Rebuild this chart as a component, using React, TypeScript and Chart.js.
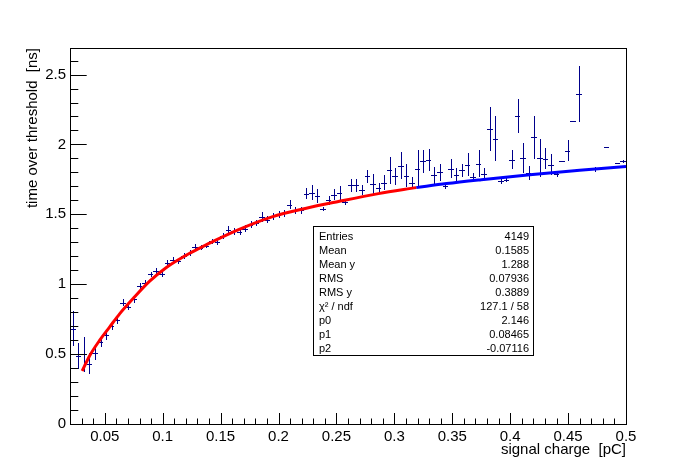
import React, { useEffect, useRef } from 'react'
import { Chart, registerables } from 'chart.js'

Chart.register(...registerables)

// profile binning: 100 bins between 0.02 and 0.5 pC
const binLow = 0.02
const binWidth = 0.0048

// mean time over threshold per bin [ns] (null = empty bin)
const tot: (number | null)[] = [
  0.681, 0.49, 0.5, 0.431, 0.505, 0.588, 0.634, 0.7, 0.743, 0.866,
  0.838, 0.891, 0.986, 1.012, 1.071, 1.093, 1.071, 1.152, 1.176, 1.164,
  1.2, 1.224, 1.266, 1.262, 1.276, 1.307, 1.302, 1.343, 1.386, 1.379,
  1.371, 1.398, 1.426, 1.438, 1.481, 1.462, 1.488, 1.498, 1.509, 1.569,
  1.529, 1.529, 1.648, 1.655, 1.629, 1.536, 1.6, 1.641, 1.652, 1.588,
  1.707, 1.707, 1.671, 1.771, 1.719, 1.691, 1.726, 1.814, 1.771, 1.848,
  1.776, 1.726, 1.826, 1.879, 1.886, 1.779, 1.8, 1.702, 1.826, 1.784,
  1.814, 1.855, 1.766, 1.862, 1.786, 2.112, 2.041, 1.738, 1.748, 1.891,
  2.205, 1.905, 1.798, 2.05, 1.905, 1.898, 1.855, 1.786, 1.884, 1.955,
  2.169, 2.362, null, null, 1.821, null, 1.979, null, 1.869, 1.879,
]

// error on the mean per bin [ns]
const totErr = [
  0.125, 0.093, 0.125, 0.075, 0.05, 0.04, 0.035, 0.025, 0.025, 0.025,
  0.022, 0.022, 0.022, 0.02, 0.02, 0.02, 0.02, 0.02, 0.02, 0.02,
  0.02, 0.02, 0.02, 0.02, 0.02, 0.02, 0.02, 0.02, 0.03, 0.025,
  0.02, 0.025, 0.025, 0.025, 0.035, 0.025, 0.025, 0.025, 0.025, 0.03,
  0.025, 0.025, 0.04, 0.056, 0.05, 0.015, 0.03, 0.04, 0.05, 0.02,
  0.048, 0.048, 0.036, 0.048, 0.072, 0.035, 0.054, 0.097, 0.064, 0.096,
  0.084, 0.042, 0.132, 0.084, 0.078, 0.06, 0.058, 0.018, 0.068, 0.048,
  0.048, 0.084, 0.03, 0.096, 0.042, 0.157, 0.161, 0.024, 0.015, 0.068,
  0.121, 0.108, 0.05, 0.155, 0.137, 0.077, 0.075, 0.02, 0, 0.075,
  0, 0.202, 0, 0, 0.018, 0, 0, 0, 0, 0.01,
]

// fit curve inside the fit range (red)
const fitX = [0.0305, 0.0371, 0.0457, 0.0543, 0.063, 0.0745, 0.0888, 0.1032, 0.1176, 0.132, 0.1449, 0.1656, 0.1944, 0.2231, 0.2518, 0.2863, 0.3189]
const fitY = [0.379, 0.49, 0.6, 0.695, 0.79, 0.898, 1.022, 1.12, 1.195, 1.258, 1.312, 1.391, 1.482, 1.542, 1.592, 1.648, 1.691]

// extrapolation of the fit (blue)
const extX = [0.3189, 0.345, 0.375, 0.417, 0.46, 0.5]
const extY = [1.691, 1.72, 1.748, 1.784, 1.815, 1.842]

const xTicks = [0.05, 0.1, 0.15, 0.2, 0.25, 0.3, 0.35, 0.4, 0.45, 0.5]
const yTicks = [0, 0.5, 1, 1.5, 2, 2.5]

const statLabels = ['Entries', 'Mean', 'Mean y', 'RMS', 'RMS y', 'χ² / ndf', 'p0', 'p1', 'p2']
const statValues = ['4149', '0.1585', '1.288', '0.07936', '0.3889', '127.1 / 58', '2.146', '0.08465', '-0.07116']

const FONT = "'Liberation Sans', Arial, Helvetica, sans-serif"

const rootStyle = {
  id: 'rootStyle',
  beforeDatasetsDraw(chart: any) {
    const { ctx } = chart
    const xs = chart.scales.x
    const ys = chart.scales.y
    const meta = chart.getDatasetMeta(2)
    const pts = chart.data.datasets[2].data
    ctx.save()
    ctx.strokeStyle = '#00008b'
    ctx.lineWidth = 1
    ctx.beginPath()
    meta.data.forEach((el: any, i: number) => {
      const p = pts[i]
      const px = Math.round(el.x) + 0.5
      const py = Math.round(el.y) + 0.5
      const l = Math.round(xs.getPixelForValue(p.x - binWidth / 2))
      const r = Math.round(xs.getPixelForValue(p.x + binWidth / 2))
      ctx.moveTo(l, py)
      ctx.lineTo(r, py)
      if (p.e > 0) {
        ctx.moveTo(px, Math.round(ys.getPixelForValue(p.y + p.e)))
        ctx.lineTo(px, Math.round(ys.getPixelForValue(p.y - p.e)))
      }
    })
    ctx.stroke()
    ctx.restore()
  },
  afterDraw(chart: any) {
    const { ctx, chartArea: a } = chart
    const xs = chart.scales.x
    const ys = chart.scales.y
    ctx.save()
    ctx.strokeStyle = '#000'
    ctx.lineWidth = 1

    // frame
    ctx.strokeRect(Math.round(a.left) + 0.5, Math.round(a.top) + 0.5, Math.round(a.right - a.left), Math.round(a.bottom - a.top))

    // inward ticks
    ctx.beginPath()
    for (let k = 2; k <= 50; k++) {
      const x = Math.round(xs.getPixelForValue(k / 100)) + 0.5
      const len = k % 5 === 0 ? 11 : 5.5
      ctx.moveTo(x, a.bottom)
      ctx.lineTo(x, a.bottom - len)
    }
    for (let k = 0; k <= 26; k++) {
      const y = Math.round(ys.getPixelForValue(k / 10)) + 0.5
      const len = k % 5 === 0 ? 16.7 : 8.3
      ctx.moveTo(a.left, y)
      ctx.lineTo(a.left + len, y)
    }
    ctx.stroke()

    // axis titles
    ctx.fillStyle = '#000'
    ctx.font = `15px ${FONT}`
    ctx.textAlign = 'right'
    ctx.textBaseline = 'alphabetic'
    ctx.fillText('signal charge  [pC]', a.right, 454)
    ctx.save()
    ctx.translate(37, a.top)
    ctx.rotate(-Math.PI / 2)
    ctx.fillText('time over threshold  [ns]', 0, 0)
    ctx.restore()

    // stats box
    ctx.fillStyle = '#fff'
    ctx.fillRect(313.5, 226.5, 220, 129)
    ctx.strokeRect(313.5, 226.5, 220, 129)
    ctx.fillStyle = '#000'
    ctx.font = `11px ${FONT}`
    statLabels.forEach((lab, i) => {
      const y = 240 + i * 14
      ctx.textAlign = 'left'
      ctx.fillText(lab, 319, y)
      ctx.textAlign = 'right'
      ctx.fillText(statValues[i], 529, y)
    })
    ctx.restore()
  },
}

const App = () => {
  const canvasRef = useRef<HTMLCanvasElement>(null)

  useEffect(() => {
    if (!canvasRef.current) return
    const ctx = canvasRef.current.getContext('2d')
    if (!ctx) return

    const profile: { x: number; y: number; e: number }[] = []
    tot.forEach((v, i) => {
      if (v !== null) profile.push({ x: binLow + binWidth * (i + 0.5), y: v, e: totErr[i] })
    })

    const chart = new Chart(ctx, {
      type: 'scatter',
      data: {
        datasets: [
          {
            label: 'fit',
            data: fitX.map((x, i) => ({ x, y: fitY[i] })),
            showLine: true,
            borderColor: '#ff0000',
            borderWidth: 3,
            pointRadius: 0,
            cubicInterpolationMode: 'monotone',
          },
          {
            label: 'extrapolation',
            data: extX.map((x, i) => ({ x, y: extY[i] })),
            showLine: true,
            borderColor: '#0000ff',
            borderWidth: 3,
            pointRadius: 0,
            cubicInterpolationMode: 'monotone',
          },
          {
            label: 'profile',
            data: profile as any,
            showLine: false,
            pointRadius: 0,
          },
        ],
      },
      options: {
        animation: false,
        responsive: true,
        maintainAspectRatio: false,
        layout: { padding: { top: 48, right: 70, bottom: 0, left: 0 } },
        plugins: {
          legend: { display: false },
          tooltip: { enabled: false },
        },
        scales: {
          x: {
            type: 'linear',
            min: 0.02,
            max: 0.5,
            afterFit: (s: any) => { s.height = 48 },
            afterBuildTicks: (s: any) => { s.ticks = xTicks.map((v) => ({ value: v })) },
            grid: { display: false, drawTicks: false },
            border: { display: false },
            ticks: {
              color: '#000',
              font: { family: FONT, size: 15 },
              padding: 4,
              maxRotation: 0,
              autoSkip: false,
              callback: (v: any) => String(v),
            },
          },
          y: {
            type: 'linear',
            min: 0,
            max: 2.69,
            afterFit: (s: any) => { s.width = 70 },
            afterBuildTicks: (s: any) => { s.ticks = yTicks.map((v) => ({ value: v })) },
            grid: { display: false, drawTicks: false },
            border: { display: false },
            ticks: {
              color: '#000',
              font: { family: FONT, size: 15 },
              padding: 4,
              autoSkip: false,
              callback: (v: any) => String(v),
            },
          },
        },
      },
      plugins: [rootStyle],
    })

    return () => {
      chart.destroy()
    }
  }, [])

  return (
    <div style={{ position: 'absolute', left: 0, top: 0, width: 696, height: 472, background: '#fff' }}>
      <canvas ref={canvasRef} />
    </div>
  )
}

export default App
